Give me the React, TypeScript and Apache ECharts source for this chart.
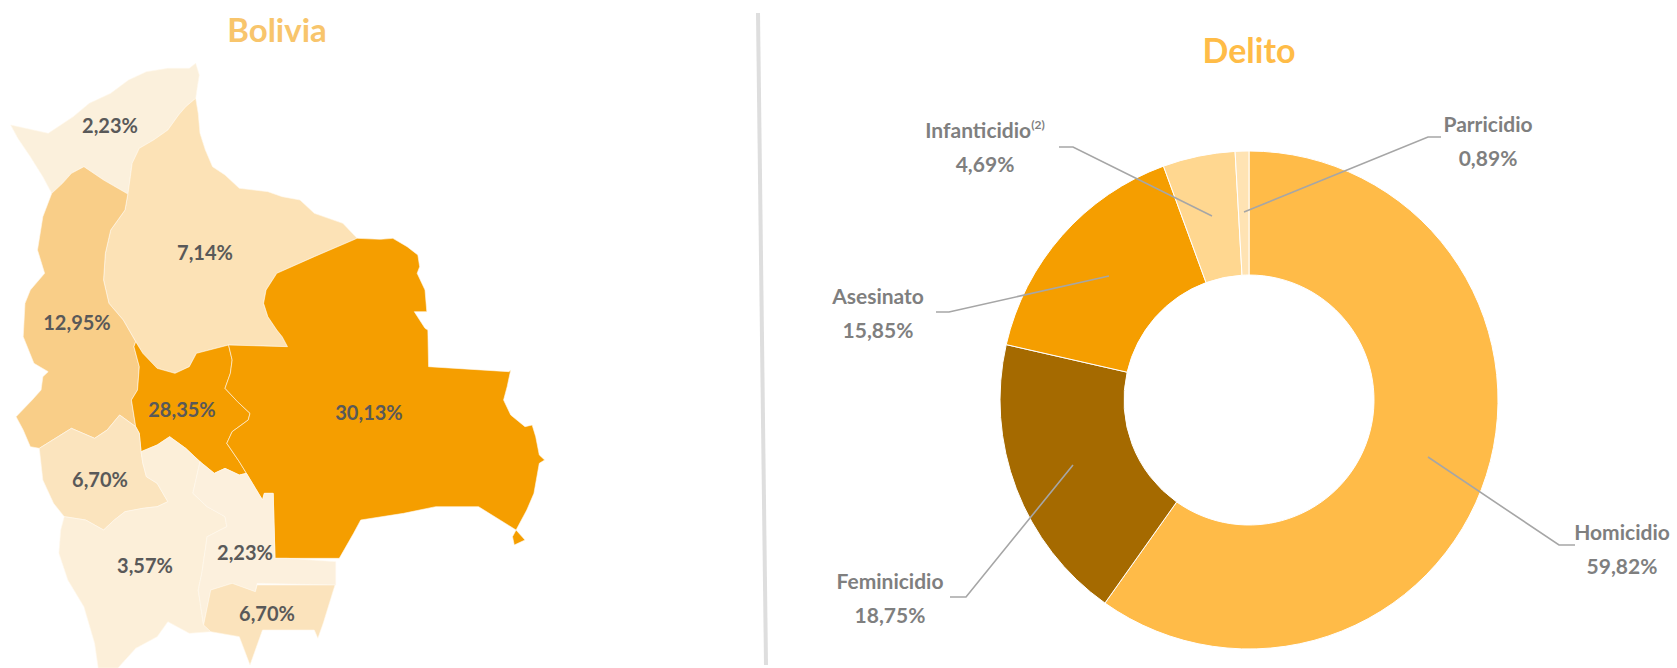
import React, { useEffect, useRef } from "react";
import * as echarts from "echarts";

const FONT = "Lato";

const regionNames = ["Pando", "Beni", "La Paz", "Cochabamba", "Santa Cruz", "Oruro", "Potosí", "Chuquisaca", "Tarija"];
const regionValues = [2.23, 7.14, 12.95, 28.35, 30.13, 6.7, 3.57, 2.23, 6.7];
const regionColors = ["#FBF0DC", "#FCE2B6", "#F9CE88", "#F59E00", "#F59E00", "#FBE4BE", "#FCEFD9", "#FCF0DD", "#FBE3BC"];
const regionLabelAt: number[][] = [[110, 125], [205, 252], [77, 322], [182, 409], [369, 412], [100, 479], [145, 565], [245, 552], [267, 613]];

// outlines are traced in crop units: x / 2.8 and y / 3 give page pixels
const outlines: number[][][] = [
  [[30,375],[135,400],[205,350],[250,310],[310,280],[360,240],[410,215],[470,205],[530,205],[548,190],[558,225],[552,265],[548,295],[520,320],[500,345],[470,390],[430,420],[390,445],[370,490],[365,530],[358,582],[290,540],[235,500],[200,520],[175,550],[145,580],[120,530],[85,470],[50,415]],
  [[548,295],[555,340],[560,400],[575,450],[595,500],[630,525],[670,565],[750,575],[790,590],[840,600],[880,640],[960,670],[1000,715],[880,770],[775,820],[745,870],[738,910],[750,950],[775,990],[790,1010],[805,1040],[640,1035],[550,1060],[530,1100],[490,1120],[440,1105],[400,1060],[380,1025],[345,960],[305,910],[290,840],[295,760],[310,690],[350,630],[358,582],[365,530],[370,490],[390,445],[430,420],[470,390],[500,345],[520,320]],
  [[235,500],[290,540],[358,582],[350,630],[310,690],[295,760],[290,840],[305,910],[345,960],[380,1025],[375,1040],[390,1100],[385,1170],[368,1200],[380,1280],[335,1245],[300,1290],[265,1315],[200,1285],[110,1345],[85,1340],[65,1290],[45,1250],[90,1200],[115,1170],[120,1130],[135,1115],[95,1090],[65,1010],[70,910],[85,870],[125,820],[105,750],[120,650],[145,580],[175,550],[200,520]],
  [[380,1025],[400,1060],[440,1105],[490,1120],[530,1100],[550,1060],[640,1035],[650,1080],[645,1120],[630,1165],[665,1205],[700,1240],[695,1260],[650,1295],[635,1330],[670,1385],[690,1420],[670,1425],[630,1405],[600,1420],[560,1385],[520,1345],[475,1310],[440,1335],[395,1355],[390,1300],[380,1280],[368,1200],[385,1170],[390,1100],[375,1040]],
  [[1000,715],[1065,718],[1100,715],[1140,740],[1170,765],[1175,800],[1168,820],[1190,870],[1195,935],[1160,935],[1190,985],[1198,990],[1200,1100],[1425,1115],[1430,1110],[1420,1160],[1410,1200],[1430,1245],[1470,1280],[1490,1275],[1500,1310],[1510,1365],[1525,1380],[1510,1390],[1495,1480],[1475,1530],[1445,1590],[1470,1620],[1440,1635],[1435,1610],[1445,1590],[1340,1520],[1220,1520],[1130,1540],[1010,1560],[990,1600],[950,1675],[805,1675],[770,1675],[765,1480],[740,1480],[735,1500],[690,1420],[670,1385],[635,1330],[650,1295],[695,1260],[700,1240],[665,1205],[630,1165],[645,1120],[650,1080],[640,1035],[805,1040],[790,1010],[775,990],[750,950],[738,910],[745,870],[775,820],[880,770]],
  [[110,1345],[200,1285],[265,1315],[300,1290],[335,1245],[380,1280],[390,1300],[395,1355],[400,1390],[410,1430],[440,1450],[470,1505],[440,1520],[400,1525],[350,1535],[320,1560],[290,1590],[240,1560],[180,1550],[150,1510],[120,1440]],
  [[180,1550],[240,1560],[290,1590],[320,1560],[350,1535],[400,1525],[440,1520],[470,1505],[440,1450],[410,1430],[400,1390],[395,1355],[440,1335],[475,1310],[520,1345],[560,1385],[540,1480],[580,1520],[630,1550],[635,1580],[580,1610],[565,1720],[555,1770],[570,1875],[590,1895],[530,1900],[470,1865],[440,1910],[380,1945],[330,2004],[275,2004],[265,1930],[235,1820],[190,1740],[165,1660],[170,1590]],
  [[560,1385],[600,1420],[630,1405],[670,1425],[690,1420],[735,1500],[740,1480],[765,1480],[770,1675],[805,1675],[940,1685],[940,1755],[720,1750],[715,1775],[650,1750],[590,1770],[570,1875],[555,1770],[565,1720],[580,1610],[635,1580],[630,1550],[580,1520],[540,1480]],
  [[590,1770],[650,1750],[715,1775],[720,1755],[938,1755],[905,1870],[890,1915],[880,1890],[735,1890],[700,1995],[670,1910],[590,1895],[570,1875]],
];

const crimes = ["Homicidio", "Feminicidio", "Asesinato", "Infanticidio", "Parricidio"];
const crimeValues = [59.82, 18.75, 15.85, 4.69, 0.89];
const crimeColors = ["#FFBB48", "#A56A00", "#F59E00", "#FFD790", "#FFE3B3"];
const crimeLabelAt: number[][] = [[1622, 548], [890, 597], [878, 312], [985, 146], [1488, 140]];
const crimeLeaders: number[][][] = [
  [[1428, 457], [1559, 545], [1575, 545]],
  [[1073, 465], [966, 597], [950, 597]],
  [[1109, 276], [949, 312], [936, 312]],
  [[1212, 216], [1073, 147], [1059, 147]],
  [[1244, 212], [1428, 137], [1441, 137]],
];

const pct = (v: number) => v.toFixed(2).replace(".", ",") + "%";

export default function App() {
  const ref = useRef<HTMLDivElement>(null);
  useEffect(() => {
    document.body.style.margin = "0";
    const pts = outlines.map((o) => o.map(([x, y]) => [x / 2.8, y / 3]));
    const geo = {
      type: "FeatureCollection",
      features: regionNames.map((name, i) => ({
        type: "Feature",
        properties: { name, cp: regionLabelAt[i] },
        geometry: { type: "Polygon", coordinates: [pts[i]] },
      })),
    };
    echarts.registerMap("bolivia", geo as any);
    const all = pts.flat();
    const minX = Math.min(...all.map((p) => p[0]));
    const maxX = Math.max(...all.map((p) => p[0]));
    const minY = Math.min(...all.map((p) => p[1]));
    const maxY = Math.max(...all.map((p) => p[1]));

    const chart = echarts.init(ref.current!, null, { renderer: "svg" });
    chart.setOption({
      animation: false,
      backgroundColor: "#fff",
      title: [
        { text: "Bolivia", left: 272, top: 7, textAlign: "center", textStyle: { fontFamily: FONT, fontSize: 33, fontWeight: "bold", color: "#F8C56C" } },
        { text: "Delito", left: 1244, top: 27, textAlign: "center", textStyle: { fontFamily: FONT, fontSize: 34, fontWeight: "bold", color: "#FFBC47" } },
      ],
      graphic: [
        { type: "line", silent: true, shape: { x1: 758, y1: 13, x2: 766, y2: 665 }, style: { stroke: "#DEDEDE", lineWidth: 4 } },
      ],
      series: [
        {
          type: "map",
          map: "bolivia",
          roam: false,
          selectedMode: false,
          silent: true,
          projection: { project: (p: number[]) => p, unproject: (p: number[]) => p },
          left: minX,
          top: minY,
          width: maxX - minX,
          height: maxY - minY,
          itemStyle: { borderColor: "#FFF8EC", borderWidth: 0.6 },
          label: {
            show: true,
            fontFamily: FONT,
            fontSize: 20,
            fontWeight: "bold",
            color: "#595959",
            formatter: (p: any) => pct(p.value),
          },
          labelLayout: { hideOverlap: false },
          data: regionNames.map((name, i) => ({
            name,
            value: regionValues[i],
            itemStyle: { areaColor: regionColors[i] },
          })),
        },
        {
          type: "pie",
          center: [1249, 400],
          radius: [125, 249],
          startAngle: 90,
          clockwise: true,
          silent: true,
          itemStyle: { borderColor: "#fff", borderWidth: 1 },
          label: {
            show: true,
            position: "outer",
            fontFamily: FONT,
            fontSize: 21,
            fontWeight: "bold",
            color: "#7F7F7F",
            lineHeight: 34,
            align: "center",
            verticalAlign: "middle",
            rich: { sup: { fontFamily: FONT, fontSize: 12, fontWeight: "bold", color: "#7F7F7F", verticalAlign: "middle", padding: [0, 0, 10, 0] } },
            formatter: (p: any) =>
              p.name === "Infanticidio" ? `${p.name}{sup|(2)}\n${pct(p.value)}` : `${p.name}\n${pct(p.value)}`,
          },
          labelLine: { show: true, showAbove: true, lineStyle: { color: "#A6A6A6", width: 1.6 } },
          labelLayout: (p: any) => ({
            x: crimeLabelAt[p.dataIndex][0],
            y: crimeLabelAt[p.dataIndex][1],
            align: "center",
            verticalAlign: "middle",
            labelLinePoints: crimeLeaders[p.dataIndex],
          }),
          data: crimes.map((name, i) => ({
            name,
            value: crimeValues[i],
            itemStyle: { color: crimeColors[i] },
          })),
        },
      ],
    });
    // the leader lines must run over the slices, as in the reference
    const zr: any = chart.getZr();
    zr.storage.getDisplayList(true, true).forEach((el: any) => {
      if (el.shape && el.shape.points && String(el.type).includes("polyline")) {
        el.z2 = 50;
        el.markRedraw();
      }
    });
    zr.refreshImmediately();
    return () => chart.dispose();
  }, []);
  return <div ref={ref} style={{ position: "fixed", left: 0, top: 0, width: 1677, height: 668 }} />;
}
